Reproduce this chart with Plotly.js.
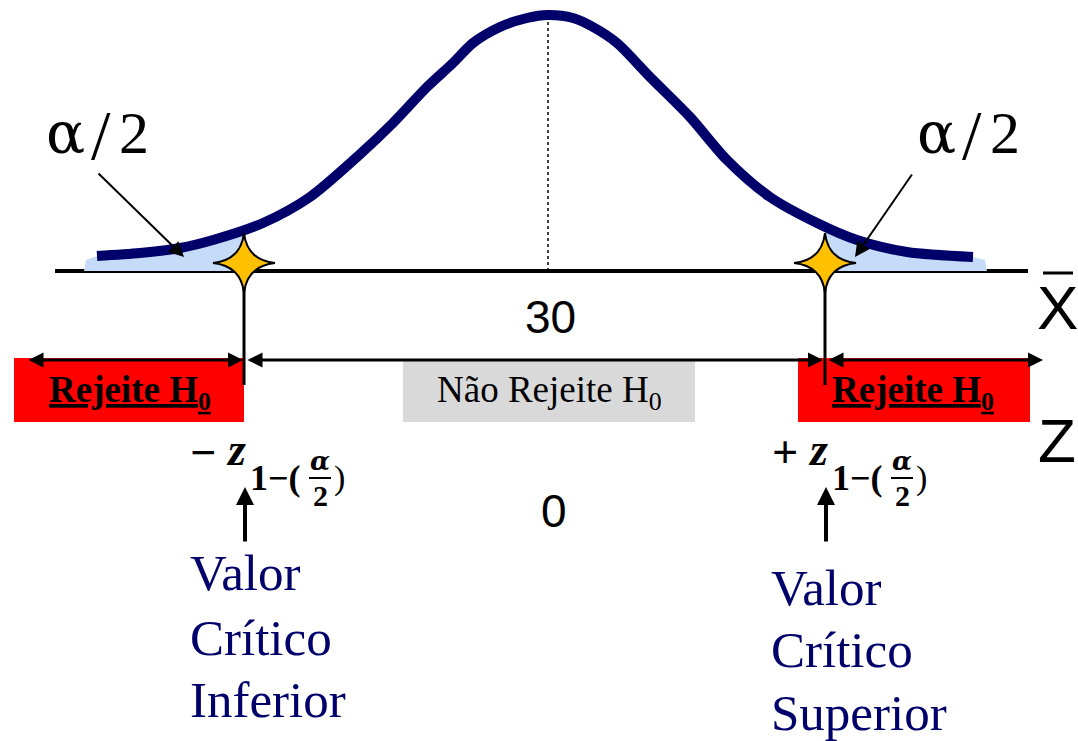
<!DOCTYPE html>
<html>
<head>
<meta charset="utf-8">
<script src="https://cdn.plot.ly/plotly-3.0.1.min.js"></script>
<style>html,body{margin:0;padding:0;background:#fff;}#chart{width:1078px;height:741px;}</style>
</head>
<body>
<div id="chart"></div>
<script>
// Bell curve (horizontal position, height above the X-bar baseline)
var curveX = [97, 140, 180, 213, 263, 310, 357, 393, 427, 453, 473, 500, 527, 548, 573, 593, 617, 650, 690, 727, 770, 817, 857, 907, 973];
var curveY = [15, 18, 23, 31, 48, 74, 114, 148, 184, 208, 228, 244, 253, 256, 253, 244, 228, 194, 154, 111, 74, 48, 31, 19, 14];
// Rejection tails (alpha/2 areas)
var tailLeftX = [84, 86, 97, 140, 180, 213, 244, 244];
var tailLeftY = [0, 11, 15, 18, 23, 31, 41, 0];
var tailRightX = [825, 825, 857, 907, 973, 985, 987];
var tailRightY = [0, 45, 31, 19, 14, 11, 0];
// Critical values and mean
var criticalX = [244, 825];
var starY = 8;
var meanX = 548;
var meanLabel = '30';
var zCenterLabel = '0';
var acceptLabel = 'Não Rejeite H<sub>0</sub>';
var rejectLabel = '<b><u>Rejeite H<sub>0</sub></u></b>';
var alphaParts = ['α', '/', '2'];
var lowerLines = ['Valor', 'Crítico', 'Inferior'];
var upperLines = ['Valor', 'Crítico', 'Superior'];

var navy = '#00006a';
var serif = 'Liberation Serif';
var greek = 'DejaVu Serif';
var sans = 'Liberation Sans';

var traces = [
  {x: tailLeftX, y: tailLeftY, mode: 'lines', fill: 'toself', fillcolor: '#c5dbf7', line: {width: 0, color: '#c5dbf7'}, hoverinfo: 'skip'},
  {x: tailRightX, y: tailRightY, mode: 'lines', fill: 'toself', fillcolor: '#c5dbf7', line: {width: 0, color: '#c5dbf7'}, hoverinfo: 'skip'},
  {x: curveX, y: curveY, mode: 'lines', line: {color: navy, width: 10, shape: 'spline', smoothing: 0.8}, hoverinfo: 'skip'}
];

function starPath(cx, cy) {
  var R = 31, Ry = 30, c = 3;
  return 'M' + (cx - R) + ',' + cy +
    ' Q' + (cx - c) + ',' + (cy + c) + ' ' + cx + ',' + (cy + Ry) +
    ' Q' + (cx + c) + ',' + (cy + c) + ' ' + (cx + R) + ',' + cy +
    ' Q' + (cx + c) + ',' + (cy - c) + ' ' + cx + ',' + (cy - Ry) +
    ' Q' + (cx - c) + ',' + (cy - c) + ' ' + (cx - R) + ',' + cy + ' Z';
}

var shapes = [
  {type: 'rect', x0: 14, x1: 244, y0: -87, y1: -151, fillcolor: '#ff0000', line: {width: 0}, layer: 'below'},
  {type: 'rect', x0: 798, x1: 1030, y0: -87, y1: -151, fillcolor: '#ff0000', line: {width: 0}, layer: 'below'},
  {type: 'rect', x0: 403, x1: 695, y0: -89, y1: -151, fillcolor: '#d9d9d9', line: {width: 0}, layer: 'below'},
  {type: 'line', x0: 55, x1: 1028, y0: 0, y1: 0, line: {color: '#000', width: 4}, layer: 'below'},
  {type: 'line', x0: meanX, x1: meanX, y0: 0, y1: 256, line: {color: '#000', width: 1.5, dash: 'dot'}, layer: 'below'},
  {type: 'line', x0: criticalX[0], x1: criticalX[0], y0: starY, y1: -114, line: {color: '#000', width: 3}, layer: 'below'},
  {type: 'line', x0: criticalX[1], x1: criticalX[1], y0: starY, y1: -114, line: {color: '#000', width: 3}, layer: 'below'},
  {type: 'line', x0: 1043, x1: 1073, y0: -2, y1: -2, line: {color: '#000', width: 3}, layer: 'below'},
  {type: 'line', x0: 309, x1: 331, y0: -207, y1: -207, line: {color: '#000', width: 2}, layer: 'below'},
  {type: 'line', x0: 891, x1: 913, y0: -207, y1: -207, line: {color: '#000', width: 2}, layer: 'below'}
];
criticalX.forEach(function (cx) {
  shapes.push({type: 'path', path: starPath(cx, starY), fillcolor: '#ffc000', line: {color: '#000', width: 2}, layer: 'above'});
});

function arrow(x, y, ax, ay, w, size, both) {
  return {x: x, y: y, ax: ax, ay: ay, xref: 'x', yref: 'y', axref: 'x', ayref: 'y', text: '', showarrow: true,
    arrowhead: 2, arrowsize: size, arrowwidth: w, arrowcolor: '#000', standoff: 0, startstandoff: 0,
    arrowside: both ? 'end+start' : 'end', startarrowhead: 2, startarrowsize: size};
}
function txt(x, y, t, size, opts) {
  opts = opts || {};
  return {x: x, y: y, xref: 'x', yref: 'y', text: t, showarrow: false,
    xanchor: opts.xa || 'center', yanchor: 'middle',
    font: {family: opts.family || serif, size: size, color: opts.color || '#000'}};
}

var ann = [
  arrow(243, -89, 27, -89, 3, 1, true),
  arrow(823, -89, 246, -89, 3, 1, true),
  arrow(1043, -89, 827, -89, 3, 1, true),
  arrow(184, 14, 97, 99, 2, 1.5, false),
  arrow(855, 14, 913, 98, 2, 1.5, false),
  arrow(criticalX[0] + 1, -216, criticalX[0] + 1, -272, 4, 0.9, false),
  arrow(criticalX[1] + 1, -216, criticalX[1] + 1, -272, 4, 0.9, false),
  txt(550, -46, meanLabel, 46, {family: sans}),
  txt(554, -240, zCenterLabel, 46, {family: sans}),
  txt(1057, -36, 'X', 62, {family: sans}),
  txt(1057, -169, 'Z', 62, {family: sans}),
  txt(130, -121, rejectLabel, 37),
  txt(913, -121, rejectLabel, 37),
  txt(549, -121, acceptLabel, 37)
];
[0, 871].forEach(function (o) {
  ann.push(txt(65 + o, 138, alphaParts[0], 58, {family: greek}));
  ann.push(txt(101 + o, 136, alphaParts[1], 70));
  ann.push(txt(134 + o, 138, alphaParts[2], 60));
});
[[0, '−'], [582, '+']].forEach(function (p) {
  var o = p[0];
  ann.push(txt(203 + o, -181, '<b>' + p[1] + '</b>', 46));
  ann.push(txt(236 + o, -178, '<b><i>z</i></b>', 46));
  ann.push(txt(248 + o, -207, '<b>1−(</b>', 36, {xa: 'left'}));
  ann.push(txt(320 + o, -190, '<b><i>α</i></b>', 26, {family: greek}));
  ann.push(txt(320 + o, -224, '<b>2</b>', 30));
  ann.push(txt(332 + o, -207, ')', 34, {xa: 'left'}));
});
var lowY = [-302, -367, -429], upY = [-317, -379, -442];
lowerLines.forEach(function (t, i) { ann.push(txt(188, lowY[i], t, 51, {xa: 'left', color: navy})); });
upperLines.forEach(function (t, i) { ann.push(txt(769, upY[i], t, 51, {xa: 'left', color: navy})); });

var layout = {
  width: 1078, height: 741,
  margin: {l: 0, r: 0, t: 0, b: 0},
  paper_bgcolor: '#fff', plot_bgcolor: '#fff',
  showlegend: false,
  xaxis: {range: [0, 1078], visible: false, fixedrange: true},
  yaxis: {range: [-470, 271], visible: false, fixedrange: true},
  shapes: shapes,
  annotations: ann
};
Plotly.newPlot('chart', traces, layout, {staticPlot: true, displayModeBar: false});
</script>
</body>
</html>
